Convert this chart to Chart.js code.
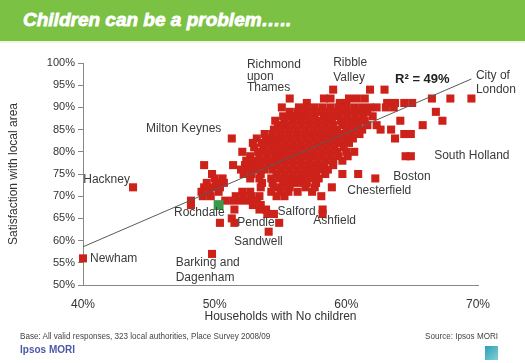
<!DOCTYPE html>
<html>
<head>
<meta charset="utf-8">
<script src="https://cdn.jsdelivr.net/npm/chart.js@4"></script>
<style>
  body { margin: 0; background: #fff; font-family: "Liberation Sans", Arial, sans-serif; }
  #page { position: relative; width: 525px; height: 363px; overflow: hidden; }
  #titleBar { position: absolute; left: 0; top: 0; width: 525px; height: 41px; background: #7bc143; border-bottom: 2px solid #eef5e6; }
  #titleBar span { position: absolute; left: 23px; top: 9px; color: #fff; font-size: 19px; font-weight: bold; font-style: italic; letter-spacing: 0px; -webkit-text-stroke: 0.8px #fff; }
  #chart { position: absolute; left: 0; top: 0; }
  .foot { position: absolute; font-size: 9px; color: #444; transform: scaleX(0.9); white-space: nowrap; }
  #brand { position: absolute; left: 20px; top: 344px; font-size: 10px; font-weight: bold; color: #4a5aa6; }
  #logo { position: absolute; left: 485px; top: 346px; width: 13px; height: 14px; background: linear-gradient(135deg, #2f9fb6, #7fd0d8); }
</style>
</head>
<body>
<div id="page">
  <canvas id="chart" width="525" height="363"></canvas>
  <div id="titleBar"><span>Children can be a problem…..</span></div>
  <div class="foot" style="left:20px; top:331px; transform-origin: left center;">Base: All valid responses, 323 local authorities, Place Survey 2008/09</div>
  <div class="foot" style="right:27px; top:331px; transform-origin: right center;">Source: Ipsos MORI</div>
  <div id="brand">Ipsos MORI</div>
  <div id="logo"></div>
</div>
<script>
// satisfaction levels (%) and the share of households with no children (%) of authorities at each level
const satisfactionLevels = [94, 92, 91, 90, 89, 88, 87, 86, 85, 84, 83, 82, 81, 80, 79, 78, 77, 76, 75, 74, 73, 72, 71, 70, 69, 68, 67, 66, 65, 64, 62, 57, 56];
const noChildrenByLevel = [
  [59.0, 61.8, 62.9],
  [55.7, 58.3, 58.8, 60.2, 60.8, 61.4, 66.5, 67.9, 69.5],
  [57.0, 59.5, 60.0, 63.1, 63.7, 64.4, 65.0],
  [55.1, 56.4, 57.0, 57.6, 58.2, 58.8, 59.4, 60.0, 60.6, 61.2, 61.8, 62.3, 63.0, 63.6],
  [55.7, 56.3, 56.9, 57.5, 58.1, 58.7, 59.3, 59.9, 60.5, 61.1, 61.6, 66.8],
  [55.2, 55.8, 56.4, 57.0, 57.6, 58.3, 58.9, 59.5, 60.1, 60.7, 61.3, 62.0],
  [54.6, 55.3, 55.9, 56.5, 57.1, 57.7, 58.3, 58.9, 59.6, 60.2, 60.8, 61.4, 64.1, 67.3],
  [54.8, 55.4, 56.0, 56.6, 57.2, 57.8, 58.4, 59.0, 59.7, 60.3, 60.9, 61.6, 62.3, 65.8],
  [54.5, 55.1, 55.7, 56.3, 56.9, 57.5, 58.1, 58.7, 59.3, 60.0, 60.6, 61.2, 62.6, 63.4],
  [53.8, 54.4, 55.0, 55.6, 56.2, 56.8, 57.4, 58.0, 58.6, 59.2, 59.8, 60.4, 61.0, 64.4, 64.9],
  [51.3, 53.2, 53.9, 54.5, 55.1, 55.7, 56.3, 56.9, 57.5, 58.1, 58.7, 59.3, 59.9, 60.5, 63.7],
  [52.9, 53.6, 54.2, 54.8, 55.4, 56.0, 56.6, 57.2, 57.8, 58.4, 59.0, 59.6, 60.2],
  [53.0, 53.7, 54.3, 54.9, 55.5, 56.1, 56.7, 57.3, 57.9, 58.5, 59.1, 59.8],
  [52.1, 53.3, 53.9, 54.5, 55.1, 55.7, 56.3, 56.9, 57.5, 58.1, 58.7, 59.3, 60.0, 60.6],
  [52.7, 53.4, 54.0, 54.6, 55.2, 55.8, 56.4, 57.0, 57.6, 58.2, 58.8, 59.4, 60.1, 64.5, 64.9],
  [52.4, 53.0, 53.6, 54.2, 54.8, 55.4, 56.0, 56.6, 57.2, 57.8, 58.4, 59.0, 59.7],
  [49.2, 51.4, 52.3, 52.9, 53.5, 54.1, 54.7, 55.3, 55.9, 56.5, 57.1, 57.7, 58.3, 59.0],
  [52.0, 52.6, 53.2, 53.8, 54.4, 55.0, 55.6, 56.2, 56.8, 57.4, 58.0, 58.6],
  [49.8, 52.2, 52.8, 53.5, 54.7, 55.3, 55.9, 56.5, 57.1, 57.7, 58.4, 59.7, 60.9],
  [50.0, 50.6, 52.7, 53.4, 54.3, 54.9, 55.5, 56.1, 56.7, 57.3, 57.9, 62.2],
  [49.4, 50.1, 50.7, 53.6, 54.4, 55.2, 55.8, 56.4, 57.0, 57.7],
  [43.8, 49.2, 49.8, 50.4, 53.5, 54.5, 55.1, 55.7, 56.9, 57.6, 58.9],
  [49.0, 49.6, 50.3, 52.1, 52.7, 54.3, 55.0, 55.6, 56.3, 57.4],
  [49.1, 49.7, 51.6, 52.2, 52.8, 53.4, 54.7, 55.3, 58.1],
  [48.2, 50.8, 51.4, 52.0, 52.6, 53.2],
  [48.2, 52.9, 53.5],
  [51.5, 53.4, 53.9, 58.2],
  [54.0, 54.5, 58.2],
  [51.3],
  [50.4, 51.5, 54.9],
  [54.1],
  [49.8],
  [40.0]
];

// Rochdale, highlighted in green
const rochdaleX = [50.3];
const rochdaleY = [68];

// fitted line, R2 = 49%
const trendX = [40, 69.5];
const trendY = [58.6, 96.4];

const xTicks = [40, 50, 60, 70];

// text labels, anchored in data units (baseline of first line)
const notes = [
  { text: ['Richmond', 'upon', 'Thames'], x: 52.45, y: 98.9, step: 11.8 },
  { text: ['Ribble', 'Valley'], x: 59.0, y: 99.4, step: 15 },
  { text: ['R² = 49%'], x: 63.7, y: 95.4, bold: true },
  { text: ['City of', 'London'], x: 69.84, y: 96.4, step: 14.3 },
  { text: ['Milton Keynes'], x: 44.78, y: 84.4 },
  { text: ['South Holland'], x: 66.67, y: 78.4 },
  { text: ['Boston'], x: 63.56, y: 73.65 },
  { text: ['Chesterfield'], x: 60.07, y: 70.5 },
  { text: ['Hackney'], x: 40.02, y: 72.9 },
  { text: ['Newham'], x: 40.53, y: 55.1 },
  { text: ['Rochdale'], x: 46.91, y: 65.6 },
  { text: ['Pendle'], x: 51.72, y: 63.36 },
  { text: ['Salford'], x: 54.78, y: 65.77 },
  { text: ['Ashfield'], x: 57.49, y: 63.74 },
  { text: ['Sandwell'], x: 51.47, y: 59.08 },
  { text: ['Barking and', 'Dagenham'], x: 47.04, y: 54.35, step: 15 }
];

const points = [];
satisfactionLevels.forEach((level, i) => {
  noChildrenByLevel[i].forEach(x => points.push({ x: x, y: level }));
});

const notesPlugin = {
  id: 'notes',
  afterDatasetsDraw(chart) {
    const ctx = chart.ctx;
    const xs = chart.scales.x, ys = chart.scales.y;
    ctx.save();
    ctx.textAlign = 'left';
    ctx.textBaseline = 'alphabetic';
    notes.forEach(n => {
      ctx.fillStyle = n.bold ? '#222' : '#3a3a3a';
      ctx.font = (n.bold ? 'bold 13px ' : '12px ') + '"Liberation Sans", Arial, sans-serif';
      const px = xs.getPixelForValue(n.x);
      const py = ys.getPixelForValue(n.y);
      n.text.forEach((line, k) => ctx.fillText(line, px, py + k * (n.step || 14)));
    });
    ctx.restore();
  }
};

new Chart(document.getElementById('chart'), {
  type: 'scatter',
  data: {
    datasets: [
      {
        type: 'line',
        data: trendX.map((x, i) => ({ x: x, y: trendY[i] })),
        borderColor: '#5a5a5a',
        borderWidth: 1,
        pointRadius: 0,
        fill: false
      },
      {
        data: rochdaleX.map((x, i) => ({ x: x, y: rochdaleY[i] })),
        pointStyle: 'rect',
        pointRadius: 7,
        backgroundColor: '#3a9a4a',
        borderWidth: 0,
        clip: false
      },
      {
        data: points,
        pointStyle: 'rect',
        pointRadius: 5.7,
        backgroundColor: '#cc2219',
        borderWidth: 0,
        clip: false
      }
    ]
  },
  options: {
    responsive: false,
    animation: false,
    layout: { padding: { left: 0, top: 63, right: 47, bottom: 39 } },
    plugins: { legend: { display: false }, tooltip: { enabled: false } },
    scales: {
      x: {
        min: 40, max: 70,
        afterBuildTicks: s => { s.ticks = xTicks.map(v => ({ value: v })); },
        afterFit: s => { s.height = 39; },
        border: { color: '#888', width: 1 },
        grid: { drawOnChartArea: false, drawTicks: false },
        ticks: {
          padding: 12,
          color: '#333',
          font: { family: '"Liberation Sans", Arial, sans-serif', size: 12 },
          callback: v => v + '%'
        },
        title: {
          display: true,
          text: 'Households with No children',
          color: '#333',
          padding: { top: 0, bottom: 0 },
          font: { family: '"Liberation Sans", Arial, sans-serif', size: 12 }
        }
      },
      y: {
        min: 50, max: 100,
        afterFit: s => { s.width = 83; },
        border: { color: '#888', width: 1 },
        grid: { drawOnChartArea: false, drawTicks: true, tickLength: 5, color: '#888' },
        ticks: {
          stepSize: 5,
          padding: 3,
          color: '#333',
          font: { family: '"Liberation Sans", Arial, sans-serif', size: 11 },
          callback: v => v + '%'
        },
        title: {
          display: true,
          text: 'Satisfaction with local area',
          color: '#333',
          padding: { top: 6, bottom: 0 },
          font: { family: '"Liberation Sans", Arial, sans-serif', size: 12 }
        }
      }
    }
  },
  plugins: [notesPlugin]
});
</script>
</body>
</html>
